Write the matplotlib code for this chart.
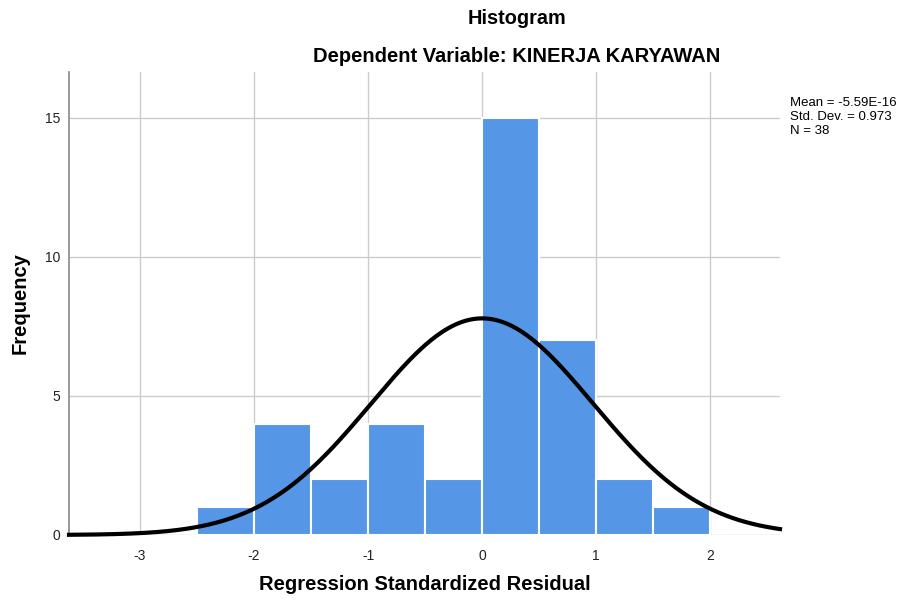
import numpy as np
import matplotlib
matplotlib.use("Agg")
import matplotlib.pyplot as plt

plt.rcParams['font.family'] = ['Liberation Sans', 'DejaVu Sans']

bin_edges = [-2.5, -2.0, -1.5, -1.0, -0.5, 0.0, 0.5, 1.0, 1.5, 2.0]
counts = [1, 4, 2, 4, 2, 15, 7, 2, 1]
mean = -5.59e-16
std = 0.973
n = 38
xticks = [-3, -2, -1, 0, 1, 2]
yticks = [0, 5, 10, 15]

fig = plt.figure(figsize=(8.99, 6.01), dpi=100)
ax = fig.add_axes([69/899, 1-535/601, (780-69)/899, (535-72)/601])

lefts = bin_edges[:-1]
widths = np.diff(bin_edges)
ax.bar(lefts, counts, width=widths, align='edge', color='#5596E6',
       edgecolor='white', linewidth=1.5, zorder=2)

xmin, xmax = -3.62, 2.61
xs = np.linspace(xmin, xmax, 400)
bw = widths[0]
ys = n * bw / (std * np.sqrt(2*np.pi)) * np.exp(-0.5*((xs-mean)/std)**2)
ax.plot(xs, ys, color='black', linewidth=3, zorder=3, clip_on=False)

ax.set_xlim(xmin, xmax)
ax.set_ylim(0, 16.65)
ax.set_xticks(xticks)
ax.set_xticklabels([str(t) for t in xticks])
ax.set_yticks(yticks)
ax.set_yticklabels([str(t) for t in yticks])
ax.grid(True, color='#cccccc', linewidth=1.0, zorder=0)
ax.set_axisbelow(True)
for s in ['top', 'right', 'bottom']:
    ax.spines[s].set_visible(False)
ax.spines['left'].set_color('#888888')
ax.spines['left'].set_linewidth(1.2)
ax.tick_params(length=0, labelsize=10, colors='#222222', pad=10)
ax.tick_params(axis='y', pad=6)

fig.text(425/899, 1-585/601, 'Regression Standardized Residual', ha='center', va='center',
         fontsize=14.5, fontweight='bold')
fig.text(20/899, 1-303/601, 'Frequency', ha='center', va='center', rotation=90,
         fontsize=14.5, fontweight='bold')

fig.text(517/899, 1-18/601, 'Histogram', ha='center', va='center', fontsize=14.3, fontweight='bold')
fig.text(517/899, 1-56/601, 'Dependent Variable: KINERJA KARYAWAN', ha='center', va='center',
         fontsize=14.5, fontweight='bold')

fig.text(790/899, 1-117/601, f'Mean = -5.59E-16\nStd. Dev. = {std}\nN = {n}',
         ha='left', va='center', fontsize=9.5, linespacing=1.2)

fig.savefig('out.png', dpi=100)
